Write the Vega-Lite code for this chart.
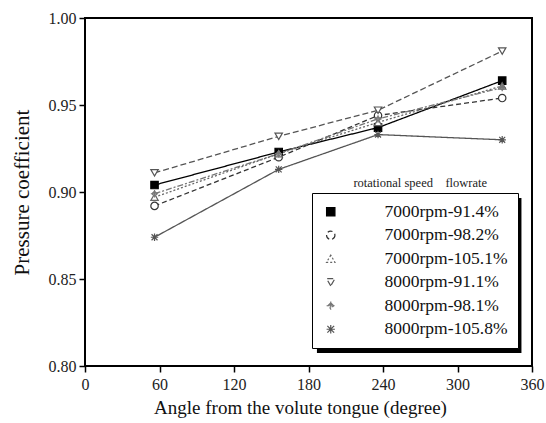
{
  "$schema": "https://vega.github.io/schema/vega-lite/v6.json",
  "width": 447,
  "height": 348,
  "autosize": {"type": "none"},
  "padding": {"left": 85, "top": 18, "right": 14, "bottom": 57},
  "background": "white",
  "config": {
    "view": {"stroke": "#000", "strokeWidth": 2},
    "font": "Liberation Serif",
    "axis": {"labelFont": "Liberation Serif", "titleFont": "Liberation Serif"},
    "legend": {"labelFont": "Liberation Serif"},
    "style": {"guide-label": {"font": "Liberation Serif"}, "guide-title": {"font": "Liberation Serif"}}
  },
  "datasets": {
    "cp": [
      {"series": "7000rpm-91.4%", "angle": 56, "cp": 0.904},
      {"series": "7000rpm-91.4%", "angle": 156, "cp": 0.923},
      {"series": "7000rpm-91.4%", "angle": 236, "cp": 0.937},
      {"series": "7000rpm-91.4%", "angle": 336, "cp": 0.964},
      {"series": "7000rpm-98.2%", "angle": 56, "cp": 0.892},
      {"series": "7000rpm-98.2%", "angle": 156, "cp": 0.920},
      {"series": "7000rpm-98.2%", "angle": 236, "cp": 0.944},
      {"series": "7000rpm-98.2%", "angle": 336, "cp": 0.954},
      {"series": "7000rpm-105.1%", "angle": 56, "cp": 0.897},
      {"series": "7000rpm-105.1%", "angle": 156, "cp": 0.922},
      {"series": "7000rpm-105.1%", "angle": 236, "cp": 0.940},
      {"series": "7000rpm-105.1%", "angle": 336, "cp": 0.961},
      {"series": "8000rpm-91.1%", "angle": 56, "cp": 0.911},
      {"series": "8000rpm-91.1%", "angle": 156, "cp": 0.932},
      {"series": "8000rpm-91.1%", "angle": 236, "cp": 0.947},
      {"series": "8000rpm-91.1%", "angle": 336, "cp": 0.981},
      {"series": "8000rpm-98.1%", "angle": 56, "cp": 0.899},
      {"series": "8000rpm-98.1%", "angle": 156, "cp": 0.922},
      {"series": "8000rpm-98.1%", "angle": 236, "cp": 0.942},
      {"series": "8000rpm-98.1%", "angle": 336, "cp": 0.960},
      {"series": "8000rpm-105.8%", "angle": 56, "cp": 0.874},
      {"series": "8000rpm-105.8%", "angle": 156, "cp": 0.913},
      {"series": "8000rpm-105.8%", "angle": 236, "cp": 0.933},
      {"series": "8000rpm-105.8%", "angle": 336, "cp": 0.930}
    ],
    "note": [{"label": "rotational speed\u00a0\u00a0\u00a0\u00a0flowrate"}],
    "frame": [{"part": "legend shadow"}]
  },
  "data": {"name": "cp"},
  "layer": [
    {
      "data": {"name": "frame"},
      "mark": {"type": "rect", "fill": "#000"},
      "encoding": {
        "x": {"datum": 186.8, "type": "quantitative"},
        "x2": {"datum": 351.5},
        "y": {"datum": 0.8966, "type": "quantitative"},
        "y2": {"datum": 0.8075}
      }
    },
    {
      "mark": {"type": "line", "strokeWidth": 1.3},
      "encoding": {
        "x": {"field": "angle", "type": "quantitative", "scale": {"domain": [0, 360], "nice": false, "zero": false},
          "axis": {"values": [0,60,120,180,240,300,360], "domain": false, "ticks": true, "tickSize": 6, "tickWidth": 1.5, "tickColor": "#000", "tickOpacity": 1, "grid": false, "labelFont": "Liberation Serif", "labelFontSize": 16, "labelColor": "#222", "labelPadding": 4, "labelFlush": false, "labelOverlap": false, "title": "Angle from the volute tongue (degree)", "titleFont": "Liberation Serif", "titleFontSize": 19, "titleFontWeight": "normal", "titleColor": "#111", "titlePadding": 6, "titleX": 215}},
        "y": {"field": "cp", "type": "quantitative", "scale": {"domain": [0.8, 1.0], "nice": false, "zero": false},
          "axis": {"values": [0.8,0.85,0.9,0.95,1.0], "format": ".2f", "domain": false, "ticks": true, "tickSize": 6, "tickWidth": 1.5, "tickColor": "#000", "tickOpacity": 1, "grid": false, "labelFont": "Liberation Serif", "labelFontSize": 16, "labelColor": "#222", "labelPadding": 3, "labelFlush": false, "labelOverlap": false, "title": "Pressure coefficient", "titleFont": "Liberation Serif", "titleFontSize": 21, "titleFontWeight": "normal", "titleColor": "#111", "titlePadding": 16}},
        "detail": {"field": "series"},
        "stroke": {"field": "series", "type": "nominal",
          "scale": {"domain": ["7000rpm-91.4%","7000rpm-98.2%","7000rpm-105.1%","8000rpm-91.1%","8000rpm-98.1%","8000rpm-105.8%"], "range": ["#000000","#333333","#666666","#555555","#777777","#555555"]},
          "legend": {
            "orient": "none", "legendX": 227, "legendY": 175, "title": null,
            "strokeColor": "#000", "fillColor": "#fff", "padding": 10,
            "symbolSize": 70, "symbolStrokeWidth": 1.2, "labelOffset": 45, "rowPadding": 4.5,
            "labelFont": "Liberation Serif", "labelFontSize": 17.5, "labelColor": "#111", "labelLimit": 300
          }},
        "strokeDash": {"field": "series", "type": "nominal",
          "scale": {"domain": ["7000rpm-91.4%","7000rpm-98.2%","7000rpm-105.1%","8000rpm-91.1%","8000rpm-98.1%","8000rpm-105.8%"], "range": [[1,0],[5,3],[2,2],[6,3],[6,2,2,2],[1,0]]}}
      }
    },
    {
      "mark": {"type": "point", "filled": true, "size": 55, "strokeWidth": 1.2, "opacity": 1},
      "encoding": {
        "x": {"field": "angle", "type": "quantitative"},
        "y": {"field": "cp", "type": "quantitative"},
        "shape": {"field": "series", "type": "nominal",
          "scale": {"domain": ["7000rpm-91.4%","7000rpm-98.2%","7000rpm-105.1%","8000rpm-91.1%","8000rpm-98.1%","8000rpm-105.8%"], "range": ["square","circle","triangle-up","triangle-down","M0,-1V1M-1,0H1M0,-0.7L0.7,0L0,0.7L-0.7,0Z","M-0.8,-0.8L0.8,0.8M-0.8,0.8L0.8,-0.8M0,-1V1M-1,0H1"]},
          "legend": null},
        "fill": {"field": "series", "type": "nominal",
          "scale": {"domain": ["7000rpm-91.4%","7000rpm-98.2%","7000rpm-105.1%","8000rpm-91.1%","8000rpm-98.1%","8000rpm-105.8%"], "range": ["#000000","#ffffff","#ffffff","#ffffff","#ffffff","#ffffff"]},
          "legend": null},
        "stroke": {"field": "series", "type": "nominal"}
      }
    },
    {
      "data": {"name": "note"},
      "mark": {"type": "text", "font": "Liberation Serif", "fontSize": 12.5, "color": "#222", "baseline": "middle", "align": "center"},
      "encoding": {
        "x": {"datum": 270, "type": "quantitative"},
        "y": {"datum": 0.905, "type": "quantitative"},
        "text": {"field": "label"}
      }
    }
  ]
}
